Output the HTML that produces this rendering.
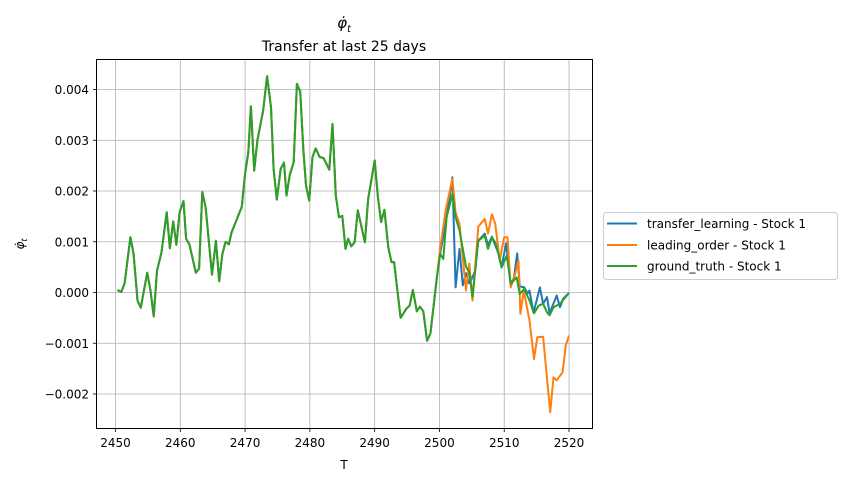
<!DOCTYPE html>
<html><head><meta charset="utf-8"><style>
body{margin:0;background:#fff;}
svg{display:block;font-family:"DejaVu Sans","Liberation Sans",sans-serif;}
</style></head><body>
<svg id="chart" width="846" height="482" viewBox="0 0 846 482">
<text x="344" y="28" text-anchor="middle" font-size="15" font-style="italic">φ̇<tspan font-size="10" dy="4">t</tspan></text>
<text x="344" y="51" text-anchor="middle" font-size="14">Transfer at last 25 days</text>
<g id="grid"></g>
<g id="series"></g>
<rect x="96.5" y="59.5" width="496" height="369" fill="none" stroke="#000" stroke-width="1"/>
<g id="ticks"></g>
<text x="344" y="469" text-anchor="middle" font-size="12">T</text>
<text transform="translate(24,244) rotate(-90)" text-anchor="middle" font-size="12" font-style="italic">φ̇<tspan font-size="8" dy="3">t</tspan></text>
<g>
<rect x="603.5" y="212.5" width="234" height="67" rx="3" fill="#fff" stroke="#ccc"/>
<line x1="607" y1="223.5" x2="637" y2="223.5" stroke="#1f77b4" stroke-width="2"/>
<text x="647" y="228" font-size="12">transfer_learning - Stock 1</text>
<line x1="607" y1="245" x2="637" y2="245" stroke="#ff7f0e" stroke-width="2"/>
<text x="647" y="249.5" font-size="12">leading_order - Stock 1</text>
<line x1="607" y1="266" x2="637" y2="266" stroke="#2ca02c" stroke-width="2"/>
<text x="647" y="270.5" font-size="12">ground_truth - Stock 1</text>
</g>
</svg>
<script>
const xTicks = [2450, 2460, 2470, 2480, 2490, 2500, 2510, 2520];
const yTicks = [-0.002, -0.001, 0, 0.001, 0.002, 0.003, 0.004];
const yTickLabels = ["−0.002", "−0.001", "0.000", "0.001", "0.002", "0.003", "0.004"];
const commonT = [2450.3,2450.9,2451.4,2452.3,2452.8,2453.4,2453.9,2454.9,2455.4,2455.9,2456.4,2457.1,2457.9,2458.4,2458.9,2459.4,2459.9,2460.5,2460.9,2461.4,2462.4,2462.9,2463.4,2463.9,2464.9,2465.5,2466.0,2466.5,2467.0,2467.5,2467.9,2469.5,2470.0,2470.5,2470.9,2471.4,2471.9,2472.8,2473.4,2474.0,2474.4,2474.9,2475.5,2476.0,2476.4,2476.9,2477.5,2478.0,2478.5,2479.0,2479.4,2479.9,2480.4,2480.9,2481.5,2482.1,2483.0,2483.5,2484.0,2484.5,2485.0,2485.5,2485.9,2486.4,2486.9,2487.4,2488.5,2489.0,2490.0,2490.5,2491.0,2491.5,2492.1,2492.6,2493.0,2494.0,2494.9,2495.4,2495.9,2496.5,2497.0,2497.5,2498.1,2498.6,2499.6];
const commonV = [0.05,0.01,0.18,1.09,0.76,-0.16,-0.30,0.39,0.04,-0.47,0.43,0.79,1.58,0.87,1.40,0.94,1.58,1.80,1.06,0.95,0.39,0.47,1.98,1.68,0.35,1.02,0.22,0.76,1.00,0.95,1.18,1.69,2.34,2.76,3.67,2.40,3.00,3.59,4.26,3.65,2.44,1.83,2.44,2.56,1.91,2.32,2.57,4.11,3.96,2.80,2.11,1.81,2.67,2.84,2.67,2.65,2.42,3.32,1.91,1.48,1.51,0.86,1.06,0.91,0.99,1.62,0.99,1.85,2.60,1.88,1.39,1.63,0.89,0.60,0.60,-0.50,-0.32,-0.26,0.05,-0.37,-0.28,-0.37,-0.95,-0.81,0.30];
const truthT = [2500.1,2500.6,2501.1,2502.0,2502.5,2503.1,2504.1,2504.6,2505.1,2506.0,2507.0,2507.5,2508.1,2508.6,2509.1,2509.6,2510.4,2511.0,2511.9,2512.4,2513.1,2513.9,2514.6,2515.3,2516.0,2516.6,2517.0,2517.6,2518.6,2520.0];
const truthV = [0.76,0.66,1.48,1.94,1.48,1.22,0.51,0.40,-0.09,1.02,1.12,0.86,1.09,0.99,0.76,0.49,0.73,0.17,0.30,-0.03,0.07,-0.16,-0.41,-0.26,-0.22,-0.39,-0.45,-0.29,-0.22,-0.01];
const transferT = [2500.1,2501.1,2502.0,2502.5,2503.1,2503.6,2504.1,2504.6,2505.1,2505.5,2506.0,2507.0,2507.5,2508.1,2509.1,2509.6,2510.3,2511.0,2511.5,2512.0,2512.4,2513.1,2513.6,2513.9,2514.5,2515.0,2515.5,2516.0,2516.6,2517.0,2518.1,2518.6,2519.1,2520.0];
const transferV = [0.76,1.48,2.27,0.10,0.86,0.14,0.38,0.18,0.30,0.43,1.02,1.16,0.93,1.10,0.77,0.51,0.97,0.14,0.30,0.77,0.12,0.10,-0.02,0.04,-0.39,-0.16,0.10,-0.22,-0.09,-0.41,-0.06,-0.29,-0.12,-0.01];
const leadingT = [2500.1,2501.0,2502.0,2502.5,2503.1,2504.1,2504.6,2505.1,2506.0,2507.0,2507.5,2508.1,2508.6,2509.3,2510.0,2510.5,2511.0,2511.7,2512.2,2512.5,2513.0,2513.9,2514.6,2515.1,2516.0,2517.1,2517.6,2518.1,2519.0,2519.5,2520.0];
const leadingV = [0.86,1.65,2.24,1.58,1.35,0.04,0.57,-0.16,1.30,1.45,1.16,1.54,1.36,0.63,1.09,1.09,0.10,0.38,0.63,-0.42,0.04,-0.55,-1.31,-0.88,-0.87,-2.36,-1.67,-1.73,-1.57,-1.04,-0.85];

const NS = "http://www.w3.org/2000/svg";
const X = t => 115.5 + (t - 2450) * 6.479;
const Y = v => 292.5 - v * 50.75;       // v in units of 1e-3
const Yd = v => Y(v * 1000);
const grid = document.getElementById('grid');
const ticks = document.getElementById('ticks');
function mk(tag, attrs, parent){const e=document.createElementNS(NS,tag);for(const k in attrs)e.setAttribute(k,attrs[k]);parent.appendChild(e);return e;}
xTicks.forEach(t=>{
  const g = mk('line',{x1:X(t),x2:X(t),y1:59.5,y2:428.5,stroke:'#b0b0b0','stroke-width':0.8},grid);
  
  
  const tk = mk('line',{x1:X(t),x2:X(t),y1:428.5,y2:432,stroke:'#000','stroke-width':0.8},ticks);
  
  
  const l = mk('text',{x:X(t),y:447,'text-anchor':'middle','font-size':12},ticks);
  l.textContent = String(t);
  
  
});
yTicks.forEach((v,i)=>{
  const g = mk('line',{x1:96.5,x2:592.5,y1:Yd(v),y2:Yd(v),stroke:'#b0b0b0','stroke-width':0.8},grid);
  
  
  const tk = mk('line',{x1:93,x2:96.5,y1:Yd(v),y2:Yd(v),stroke:'#000','stroke-width':0.8},ticks);
  
  
  const l = mk('text',{x:89,y:Yd(v)+4.5,'text-anchor':'end','font-size':12},ticks);
  l.textContent = yTickLabels[i];
  
  
});
const series = document.getElementById('series');
function draw(ts, vs, color, name){
  const allT = commonT.concat(ts), allV = commonV.concat(vs);
  const pts = allT.map((t,i)=>X(t).toFixed(1)+','+Y(allV[i]).toFixed(1)).join(' ');
  const p = mk('polyline',{points:pts,fill:'none',stroke:color,'stroke-width':2,'stroke-linejoin':'round'},series);
  
  
}
draw(transferT, transferV, '#1f77b4', 'transfer-learning-line');
draw(leadingT, leadingV, '#ff7f0e', 'leading-order-line');
draw(truthT, truthV, '#2ca02c', 'ground-truth-line');
</script>
</body></html>
